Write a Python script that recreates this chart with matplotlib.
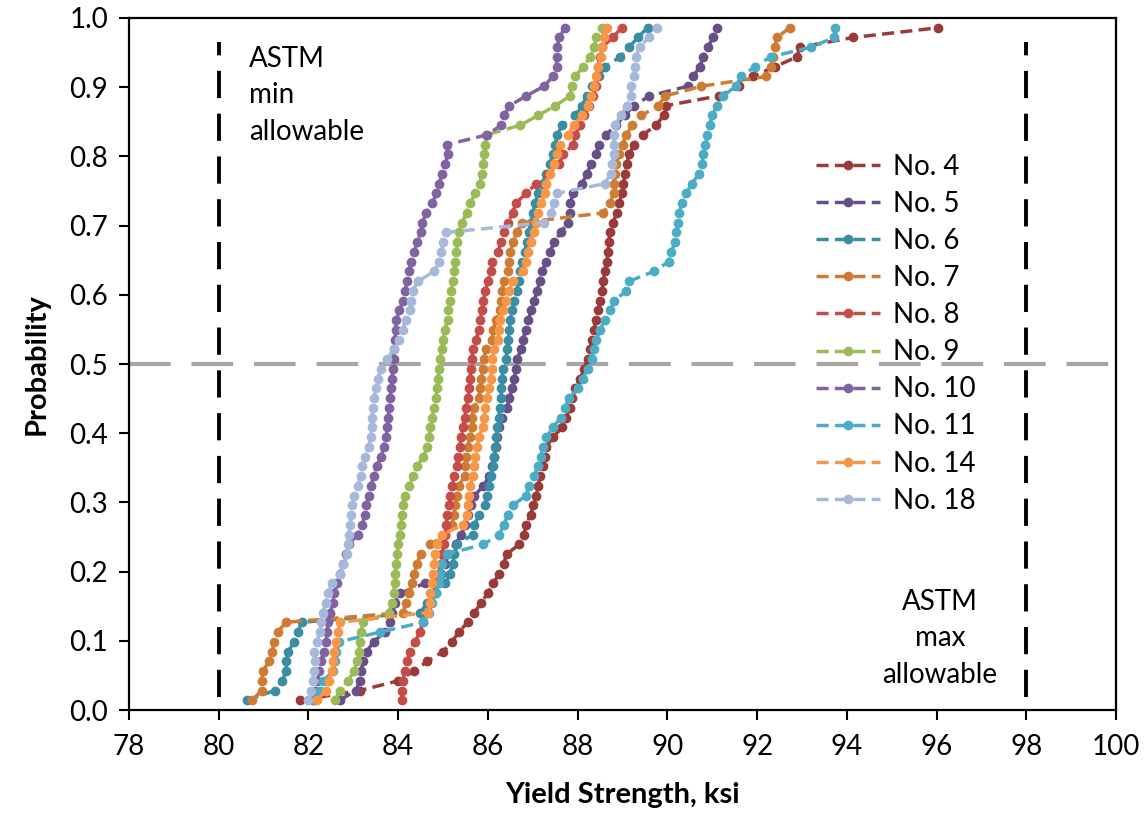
import numpy as np
import matplotlib
matplotlib.use("Agg")
import matplotlib.pyplot as plt

plt.rcParams['font.family'] = ['Lato', 'DejaVu Sans']

# yield strength samples (ksi), sorted; probability = rank / (n + 1)
no4 = [81.81, 83.15, 84.00, 84.35, 84.65, 85.00, 85.20, 85.35, 85.55, 85.70,
       85.85, 86.00, 86.12, 86.25, 86.35, 86.42, 86.70, 86.80, 86.85, 86.95,
       87.01, 87.08, 87.12, 87.16, 87.22, 87.27, 87.30, 87.45, 87.66, 87.75,
       87.82, 87.88, 87.95, 88.06, 88.15, 88.22, 88.27, 88.32, 88.36, 88.41,
       88.46, 88.50, 88.54, 88.57, 88.61, 88.65, 88.68, 88.69, 88.72, 88.79,
       88.87, 88.93, 88.98, 89.02, 89.06, 89.09, 89.15, 89.26, 89.45, 89.75,
       89.92, 89.96, 91.14, 91.60, 91.90, 92.40, 92.88, 92.96, 94.14, 96.04]
no5 = [82.70, 83.05, 83.15, 83.17, 83.22, 83.30, 83.45, 83.70, 83.82, 83.87,
       83.93, 84.05, 84.60, 84.95, 85.05, 85.10, 85.28, 85.40, 85.50, 85.55,
       85.62, 85.70, 85.90, 86.03, 86.10, 86.14, 86.18, 86.21, 86.25, 86.32,
       86.42, 86.48, 86.54, 86.59, 86.62, 86.65, 86.74, 86.78, 86.84, 86.90,
       86.96, 87.03, 87.10, 87.15, 87.21, 87.30, 87.38, 87.48, 87.62, 87.78,
       87.82, 87.83, 87.90, 88.10, 88.20, 88.30, 88.40, 88.48, 88.63, 88.85,
       89.05, 89.25, 89.60, 90.45, 90.58, 90.72, 90.80, 90.90, 91.02, 91.10]
no6 = [80.62, 81.25, 81.42, 81.50, 81.51, 81.55, 81.68, 81.76, 81.85, 84.49,
       84.65, 84.85, 85.05, 85.15, 85.22, 85.25, 85.31, 85.66, 85.70, 85.80,
       85.93, 85.97, 86.02, 86.07, 86.11, 86.14, 86.16, 86.18, 86.21, 86.24,
       86.27, 86.29, 86.30, 86.31, 86.34, 86.40, 86.43, 86.45, 86.48, 86.50,
       86.53, 86.58, 86.64, 86.69, 86.72, 86.77, 86.82, 86.86, 86.91, 86.95,
       87.00, 87.05, 87.12, 87.20, 87.30, 87.38, 87.44, 87.50, 87.54, 87.66,
       87.95, 88.10, 88.20, 88.32, 88.48, 88.60, 88.95, 89.15, 89.34, 89.56]
no7 = [80.74, 80.96, 80.96, 80.99, 81.12, 81.19, 81.24, 81.31, 81.50, 84.10,
       84.18, 84.24, 84.31, 84.36, 84.42, 84.50, 84.72, 85.05, 85.20, 85.24,
       85.27, 85.31, 85.35, 85.48, 85.49, 85.52, 85.55, 85.60, 85.64, 85.64,
       85.68, 85.80, 85.82, 85.85, 85.89, 85.91, 85.95, 86.10, 86.12, 86.18,
       86.28, 86.30, 86.31, 86.36, 86.45, 86.46, 86.50, 86.56, 86.64, 86.76,
       88.57, 88.72, 88.80, 88.80, 88.83, 88.86, 88.92, 89.00, 89.08, 89.22,
       89.42, 89.80, 89.95, 90.76, 92.20, 92.30, 92.36, 92.40, 92.44, 92.73]
no8 = [84.08, 84.08, 84.10, 84.15, 84.20, 84.26, 84.38, 84.48, 84.55, 84.65,
       84.70, 84.78, 84.84, 84.90, 84.95, 84.98, 85.02, 85.05, 85.07, 85.09,
       85.13, 85.16, 85.20, 85.25, 85.30, 85.33, 85.37, 85.40, 85.44, 85.48,
       85.52, 85.55, 85.58, 85.60, 85.62, 85.64, 85.66, 85.74, 85.79, 85.83,
       85.86, 85.90, 85.94, 86.00, 86.06, 86.10, 86.22, 86.30, 86.35, 86.45,
       86.55, 86.62, 86.85, 87.08, 87.35, 87.58, 87.68, 87.90, 87.95, 88.05,
       88.15, 88.25, 88.35, 88.40, 88.43, 88.45, 88.50, 88.55, 88.78, 88.98]
no9 = [82.59, 82.70, 82.88, 83.02, 83.08, 83.12, 83.15, 83.18, 83.21, 83.80,
       83.86, 83.90, 83.92, 83.93, 83.96, 83.98, 84.00, 84.03, 84.06, 84.08,
       84.10, 84.15, 84.25, 84.33, 84.42, 84.56, 84.65, 84.69, 84.72, 84.75,
       84.80, 84.84, 84.87, 84.89, 84.91, 84.93, 84.97, 85.00, 85.04, 85.10,
       85.12, 85.15, 85.18, 85.22, 85.24, 85.27, 85.29, 85.32, 85.35, 85.42,
       85.53, 85.60, 85.72, 85.82, 85.86, 85.90, 85.92, 85.94, 85.96, 86.72,
       87.12, 87.50, 87.83, 87.87, 87.93, 88.13, 88.28, 88.36, 88.42, 88.54]
no10 = [82.10, 82.15, 82.20, 82.24, 82.28, 82.34, 82.39, 82.42, 82.44, 82.49,
        82.54, 82.58, 82.64, 82.70, 82.77, 82.84, 82.90, 83.10, 83.20, 83.25,
        83.29, 83.34, 83.39, 83.45, 83.52, 83.62, 83.68, 83.73, 83.76, 83.78,
        83.80, 83.82, 83.84, 83.86, 83.88, 83.90, 83.91, 83.93, 83.94, 83.96,
        84.02, 84.11, 84.15, 84.20, 84.24, 84.28, 84.35, 84.43, 84.50, 84.54,
        84.62, 84.76, 84.85, 84.91, 84.98, 85.05, 85.10, 85.08, 85.97, 86.30,
        86.36, 86.48, 86.85, 87.25, 87.45, 87.53, 87.53, 87.55, 87.58, 87.72]
no11 = [82.15, 82.26, 82.33, 82.55, 82.59, 82.62, 82.68, 83.60, 84.55, 84.68,
        84.76, 84.85, 84.90, 84.93, 84.98, 85.08, 85.90, 86.25, 86.35, 86.45,
        86.55, 86.85, 86.92, 87.02, 87.12, 87.18, 87.22, 87.30, 87.45, 87.62,
        87.72, 87.80, 88.00, 88.12, 88.22, 88.32, 88.36, 88.42, 88.50, 88.60,
        88.72, 88.82, 89.08, 89.15, 89.70, 90.03, 90.09, 90.17, 90.19, 90.23,
        90.27, 90.32, 90.42, 90.55, 90.70, 90.77, 90.80, 90.85, 90.89, 90.94,
        91.00, 91.10, 91.25, 91.52, 91.65, 91.95, 92.30, 93.20, 93.72, 93.74]
no14 = [82.18, 82.40, 82.45, 82.52, 82.55, 82.58, 82.62, 82.66, 82.70, 84.67,
        84.70, 84.72, 84.75, 84.77, 84.80, 84.83, 84.86, 84.98, 85.45, 85.53,
        85.55, 85.58, 85.61, 85.66, 85.69, 85.71, 85.76, 85.80, 85.88, 85.92,
        85.94, 85.98, 86.02, 86.06, 86.08, 86.10, 86.13, 86.22, 86.25, 86.28,
        86.33, 86.40, 86.48, 86.55, 86.78, 86.84, 86.90, 86.95, 87.02, 87.07,
        87.12, 87.18, 87.28, 87.30, 87.38, 87.48, 87.55, 87.60, 87.78, 87.92,
        88.10, 88.22, 88.30, 88.36, 88.42, 88.46, 88.52, 88.55, 88.59, 88.65]
no18 = [82.00, 82.05, 82.09, 82.12, 82.15, 82.12, 82.19, 82.25, 82.29, 82.33,
        82.38, 82.44, 82.52, 82.70, 82.78, 82.85, 82.88, 82.90, 82.93, 82.95,
        82.98, 83.02, 83.10, 83.16, 83.19, 83.26, 83.34, 83.39, 83.41, 83.41,
        83.44, 83.46, 83.50, 83.54, 83.62, 83.75, 83.90, 84.02, 84.10, 84.17,
        84.26, 84.29, 84.32, 84.45, 84.80, 84.92, 84.96, 85.00, 85.07, 87.25,
        87.40, 87.48, 87.53, 88.60, 88.74, 88.77, 88.80, 88.80, 88.82, 88.83,
        88.96, 89.10, 89.18, 89.20, 89.25, 89.28, 89.29, 89.38, 89.58, 89.78]

labels = ['No. 4', 'No. 5', 'No. 6', 'No. 7', 'No. 8', 'No. 9', 'No. 10',
          'No. 11', 'No. 14', 'No. 18']
colors = ['#9B3B39', '#674F88', '#3A8EA3', '#D07B33', '#C44D4A', '#9BBB59',
          '#8064A2', '#4BACC6', '#F79646', '#A7B9DA']
series = [no4, no5, no6, no7, no8, no9, no10, no11, no14, no18]

astm_min = 80
astm_max = 98

fig = plt.figure(figsize=(11.48, 8.18), dpi=100)
ax = fig.add_axes([0.1124, 0.132, 0.8597, 0.846])

# reference lines
ax.axhline(0.5, color='#A6A6A6', lw=3, dashes=(10, 5), zorder=1)
for xv in (astm_min, astm_max):
    ax.plot([xv, xv], [0.019, 0.965], color='black', lw=2.8, dashes=(7, 4), zorder=1)

for vals, lab, col in zip(series, labels, colors):
    n = len(vals)
    prob = np.arange(1, n + 1) / (n + 1)
    ax.plot(vals, prob, color=col, lw=2.5, dashes=(3.5, 1.8), marker='o', ms=6,
            mec=col, mfc=col, label=lab, zorder=2)

ax.text(80.68, 0.96, 'ASTM\nmin\nallowable', ha='left', va='top', fontsize=20,
        linespacing=1.5)
ax.text(96.08, 0.175, 'ASTM\nmax\nallowable', ha='center', va='top', fontsize=20,
        linespacing=1.5)

ax.set_xlim(78, 100)
ax.set_ylim(0, 1)
ax.set_xticks(np.arange(78, 101, 2))
ax.set_yticks(np.arange(0, 1.01, 0.1))
ax.set_yticklabels([f'{v:.1f}' for v in np.arange(0, 1.01, 0.1)])
ax.tick_params(axis='both', labelsize=20, direction='out', length=7, width=1.5)
ax.tick_params(axis='x', pad=10)
ax.tick_params(axis='y', pad=8)
for sp in ax.spines.values():
    sp.set_linewidth(1.6)

ax.set_xlabel('Yield Strength, ksi', fontsize=21, fontweight='bold', labelpad=16)
ax.set_ylabel('Probability', fontsize=21, fontweight='bold', labelpad=14)

leg = ax.legend(loc='upper left', bbox_to_anchor=(0.685, 0.82), frameon=False,
                fontsize=20, handlelength=2.3, handletextpad=0.45, labelspacing=0.4,
                borderaxespad=0)

fig.savefig('out.png', dpi=100)
